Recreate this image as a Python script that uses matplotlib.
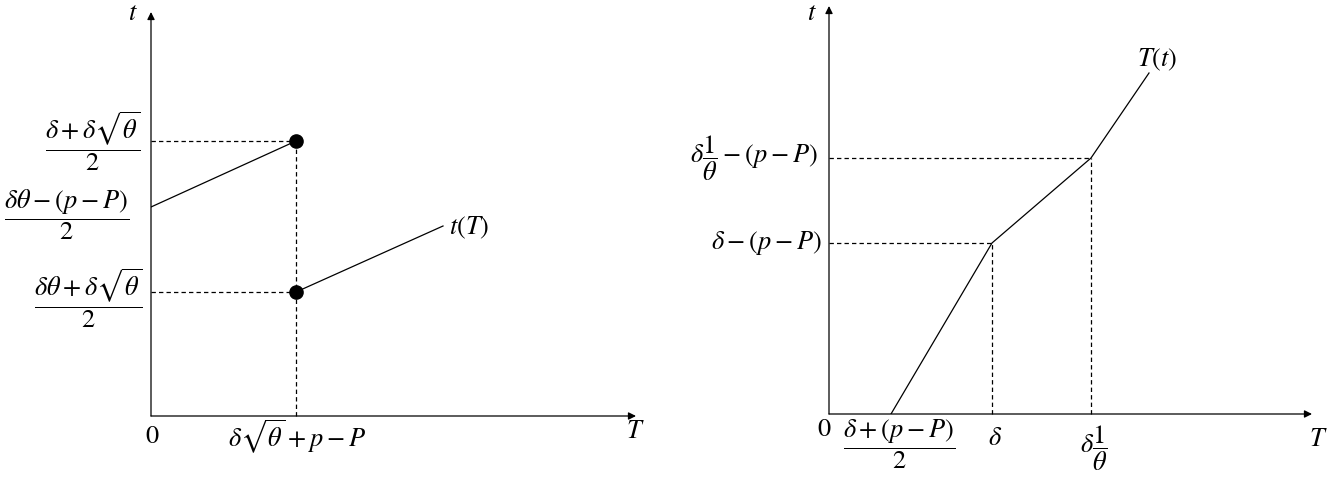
import matplotlib
matplotlib.use('Agg')
import matplotlib.pyplot as plt

plt.rcParams['mathtext.fontset'] = 'stix'
plt.rcParams['font.family'] = 'STIXGeneral'

# left panel: t(T) with a jump
left_upper_T = [0, 145]
left_upper_t = [209, 275]
left_lower_T = [145, 292]
left_lower_t = [124, 190]
left_dots_T = [145, 145]
left_dots_t = [275, 124]
left_jump_T = 145

# right panel: piecewise T(t)
right_T = [62, 163, 262, 320]
right_t = [0, 171, 256, 341]
right_kinks = [1, 2]

FS = 19


def setup_axes(fig, origin, tip_x, tip_y, W=1328, H=480):
    ox, oy = origin
    ax = fig.add_axes([ox / W, (H - oy) / H, (tip_x - ox) / W, (oy - tip_y) / H])
    ax.set_xlim(0, tip_x - ox)
    ax.set_ylim(0, oy - tip_y)
    ax.axis('off')
    arrow = dict(arrowstyle='-|>', lw=0.9, color='black', mutation_scale=11,
                 shrinkA=0, shrinkB=0)
    ax.annotate('', xy=(tip_x - ox, 0), xytext=(0, 0), arrowprops=arrow,
                annotation_clip=False)
    ax.annotate('', xy=(0, oy - tip_y), xytext=(0, 0), arrowprops=arrow,
                annotation_clip=False)
    return ax


def dashed(ax, x, y):
    ax.plot(x, y, color='black', lw=0.9, ls=(0, (3.5, 2.5)), clip_on=False)


fig = plt.figure(figsize=(13.28, 4.8), dpi=100)

# ---- left panel ----
ax1 = setup_axes(fig, (151, 416), 636, 12)
ax1.plot(left_upper_T, left_upper_t, color='black', lw=0.9)
ax1.plot(left_lower_T, left_lower_t, color='black', lw=0.9)
dashed(ax1, [0, left_jump_T], [left_dots_t[0]] * 2)
dashed(ax1, [0, left_jump_T], [left_dots_t[1]] * 2)
dashed(ax1, [left_jump_T, left_jump_T], [0, left_dots_t[0]])
ax1.plot(left_dots_T, left_dots_t, 'o', color='black', ms=9.5, clip_on=False)

txt = dict(fontsize=FS, ha='center', va='center', clip_on=False)
ax1.text(-18, 402, r'$t$', **txt)
ax1.text(484, -16, r'$T$', **txt)
ax1.text(1, -21, r'$0$', **txt)
ax1.text(left_jump_T + 1, -21, r'$\delta\sqrt{\theta}+p-P$', **txt)
ax1.text(-58, left_dots_t[0], r'$\dfrac{\delta+\delta\sqrt{\theta}}{2}$', **txt)
ax1.text(-84, 201, r'$\dfrac{\delta\theta-(p-P)}{2}$', **txt)
ax1.text(-63, 118, r'$\dfrac{\delta\theta+\delta\sqrt{\theta}}{2}$', **txt)
ax1.text(318, 188, r'$t(T)$', **txt)

# ---- right panel ----
ax2 = setup_axes(fig, (829, 414), 1312, 6)
ax2.plot(right_T, right_t, color='black', lw=0.9)
for k in right_kinks:
    dashed(ax2, [0, right_T[k]], [right_t[k]] * 2)
    dashed(ax2, [right_T[k]] * 2, [0, right_t[k]])

ax2.text(-17, 400, r'$t$', **txt)
ax2.text(489, -26, r'$T$', **txt)
ax2.text(-5, -16, r'$0$', **txt)
ax2.text(right_T[0] + 8, -30, r'$\dfrac{\delta+(p-P)}{2}$', **txt)
ax2.text(right_T[1] + 3, -25, r'$\delta$', **txt)
ax2.text(right_T[2] + 3, -34, r'$\delta\dfrac{1}{\theta}$', **txt)
ax2.text(-11, right_t[2], r'$\delta\dfrac{1}{\theta}-(p-P)$', fontsize=FS,
         ha='right', va='center', clip_on=False)
ax2.text(-7, right_t[1], r'$\delta-(p-P)$', fontsize=FS,
         ha='right', va='center', clip_on=False)
ax2.text(328, 354, r'$T(t)$', **txt)

fig.savefig('out.png', dpi=100, facecolor='white')
